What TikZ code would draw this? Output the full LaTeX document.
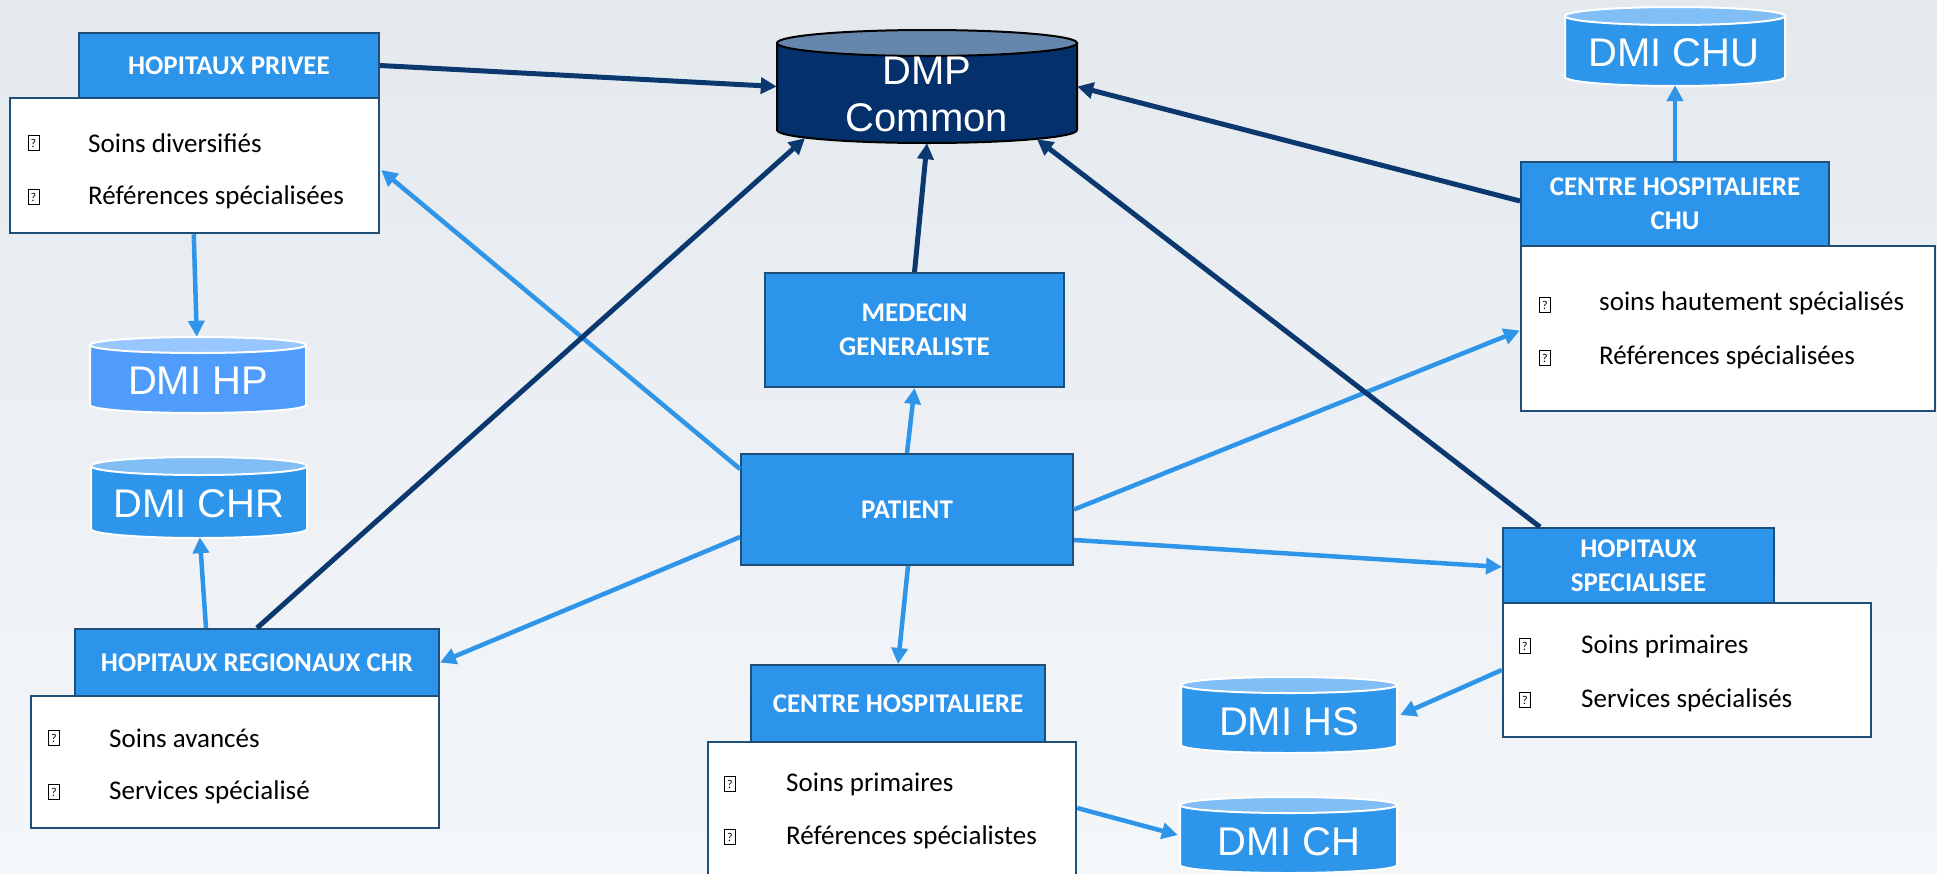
\documentclass[tikz,border=0pt]{standalone}
\usepackage{fontspec}
\setmainfont{Carlito}
\newfontfamily\arialf{Liberation Sans}
\usetikzlibrary{arrows.meta,calc}
\definecolor{hdr}{RGB}{45,148,235}
\definecolor{bord}{RGB}{31,78,121}
\definecolor{navyl}{RGB}{12,56,112}
\definecolor{lightl}{RGB}{46,149,232}
\definecolor{dmpbody}{RGB}{4,48,107}
\definecolor{dmptop}{RGB}{102,135,171}
\definecolor{dmibody}{RGB}{46,150,234}
\definecolor{dmitop}{RGB}{128,190,245}
\definecolor{hpbody}{RGB}{79,156,250}
\definecolor{hptop}{RGB}{152,198,255}
\definecolor{bgtop}{RGB}{228,233,238}
\definecolor{bgbot}{RGB}{244,247,250}
\newcommand\mycyl[8]{%
  \pgfmathsetmacro\cxa{(#1+#2)/2}\pgfmathsetmacro\rxa{(#2-#1)/2}%
  \filldraw[fill=#6, draw=#8, line width=2pt] (#1,#3) -- (#1,#4) arc[start angle=180,end angle=0,x radius=\rxa,y radius=#5] -- (#2,#3) -- cycle;
  \filldraw[fill=#7, draw=#8, line width=2pt] (\cxa,#3) ellipse[x radius=\rxa, y radius=#5];
}
\begin{document}
\begin{tikzpicture}[x=1pt,y=-1pt,
  hdrbox/.style={draw=bord, line width=2pt, fill=hdr, text=white, font=\bfseries\fontsize{27}{34}\selectfont, align=center, inner sep=0pt},
  listbox/.style={draw=bord, line width=2.5pt, fill=white, inner sep=0pt},
  itemtxt/.style={anchor=west, font=\fontsize{27}{32}\selectfont, inner sep=0pt},
  qmark/.style={draw=black, line width=0.9pt, minimum width=11pt, minimum height=15pt, inner sep=0pt, font=\fontsize{12}{12}\selectfont},
  cylbox/.style={draw=none, inner sep=0pt},
  cyltxt/.style={text=white, font=\arialf\fontsize{40}{47}\selectfont, inner sep=0pt, align=center},
  dlink/.style={draw=navyl, line width=5pt, -{Triangle[length=16pt,width=16pt]}},
  llink/.style={draw=lightl, line width=4.5pt, -{Triangle[length=16pt,width=16pt]}}]
\useasboundingbox (0,0) rectangle (1937,873);
\shade[top color=bgtop, bottom color=bgbot] (0,0) rectangle (1937,873);

% cylinders
\mycyl{777}{1077}{43}{130}{13}{dmpbody}{dmptop}{black}
\node[cylbox, minimum width=300pt, minimum height=113pt] (dmpbox) at (927,86.5) {};
\node[cyltxt] (dmp) at (927,94.5) {DMP\\Common};

\mycyl{1565}{1785}{16}{77}{9}{dmibody}{dmitop}{white}
\node[cylbox, minimum width=220pt, minimum height=78pt] (dCHU) at (1675,46) {};
\node[cyltxt] (tCHU) at (1674,53) {DMI CHU};

\mycyl{90}{306}{345}{405}{8}{hpbody}{hptop}{white}
\node[cylbox, minimum width=216pt, minimum height=76pt] (dHP) at (198,375) {};
\node[cyltxt] (tHP) at (198,381) {DMI HP};

\mycyl{91}{307}{466}{529}{9}{dmibody}{dmitop}{white}
\node[cylbox, minimum width=216pt, minimum height=80pt] (dCHR) at (199,497) {};
\node[cyltxt] (tCHR) at (199,504) {DMI CHR};

\mycyl{1181}{1397}{685}{745}{8}{dmibody}{dmitop}{white}
\node[cylbox, minimum width=216pt, minimum height=76pt] (dHS) at (1289,715) {};
\node[cyltxt] (tHS) at (1289,722) {DMI HS};

\mycyl{1180}{1397}{805}{865}{8}{dmibody}{dmitop}{white}
\node[cylbox, minimum width=217pt, minimum height=76pt] (dCH) at (1288.5,835) {};
\node[cyltxt] (tCH) at (1289,842) {DMI CH};

% boxes
\node[hdrbox, minimum width=300pt, minimum height=65pt] (hpH) at (229,65.5) {HOPITAUX PRIVEE};
\node[listbox, minimum width=369pt, minimum height=135pt] (hpL) at (194.5,165.5) {};
\node[qmark] (hpq1) at (33.5,143) {?};
\node[itemtxt] (hpt1) at (88,143) {Soins diversifiés};
\node[qmark] (hpq2) at (33.5,197) {?};
\node[itemtxt] (hpt2) at (88,197) {Références spécialisées};

\node[hdrbox, minimum width=308pt, minimum height=84pt] (chuH) at (1675,204) {CENTRE HOSPITALIERE\\CHU};
\node[listbox, minimum width=414pt, minimum height=165pt] (chuL) at (1728,328.5) {};
\node[qmark] (chuq1) at (1545,305) {?};
\node[itemtxt] (chut1) at (1599,303) {soins hautement spécialisés};
\node[qmark] (chuq2) at (1545,358) {?};
\node[itemtxt] (chut2) at (1599,357) {Références spécialisées};

\node[hdrbox, minimum width=364pt, minimum height=67pt] (chrH) at (257,662.5) {HOPITAUX REGIONAUX CHR};
\node[listbox, minimum width=408pt, minimum height=132pt] (chrL) at (235,762) {};
\node[qmark] (chrq1) at (54,738) {?};
\node[itemtxt] (chrt1) at (109,738) {Soins avancés};
\node[qmark] (chrq2) at (54,792) {?};
\node[itemtxt] (chrt2) at (109,792) {Services spécialisé};

\node[hdrbox, minimum width=299pt, minimum height=114pt] (med) at (914.5,330) {MEDECIN\\GENERALISTE};
\node[hdrbox, minimum width=332pt, minimum height=111pt] (pat) at (907,509.5) {PATIENT};

\node[hdrbox, minimum width=271pt, minimum height=75pt] (hsH) at (1638.5,565.5) {HOPITAUX\\SPECIALISEE};
\node[listbox, minimum width=368pt, minimum height=134pt] (hsL) at (1687,670) {};
\node[qmark] (hsq1) at (1525,646) {?};
\node[itemtxt] (hst1) at (1581,646) {Soins primaires};
\node[qmark] (hsq2) at (1525,700) {?};
\node[itemtxt] (hst2) at (1581,700) {Services spécialisés};

\node[hdrbox, minimum width=294pt, minimum height=77pt] (chH) at (898,703.5) {CENTRE HOSPITALIERE};
\node[listbox, minimum width=368pt, minimum height=138pt] (chL) at (892,811) {};
\node[qmark] (chq1) at (730,784) {?};
\node[itemtxt] (cht1) at (786,784) {Soins primaires};
\node[qmark] (chq2) at (730,837) {?};
\node[itemtxt] (cht2) at (786,837) {Références spécialistes};

% connectors
\draw[dlink] (hpH.east) -- (dmpbox.west);
\draw[llink] ($(pat.north west)+(0,16)$) -- ($(hpL.east)+(1,4.5)$);
\draw[llink] ($(hpL.south west)+(185,0)$) -- ($(dHP.north west)+(107,0)$);
\draw[llink] ($(pat.west)+(0,27.5)$) -- (chrH.east);
\draw[dlink] ($(chrH.north west)+(183,0)$) -- ($(dmpbox.south)+(-122,-5)$);
\draw[llink] ($(chrH.north west)+(132,0)$) -- ($(dCHR.south west)+(109,0)$);
\draw[llink] (pat.north) -- (med.south);
\draw[dlink] (med.north) -- (dmpbox.south);
\draw[llink] (pat.east) -- ($(chuL.west)+(0,2)$);
\draw[dlink] ($(chuH.west)+(0,-3)$) -- (dmpbox.east);
\draw[llink] (chuH.north) -- (dCHU.south);
\draw[dlink] ($(hsH.north west)+(38,0)$) -- ($(dmpbox.south)+(110,-4)$);
\draw[llink] ($(pat.east)+(0,30.5)$) -- ($(hsH.west)+(0,1.5)$);
\draw[llink] ($(pat.south)+(1,0)$) -- (chH.north);
\draw[llink] (hsL.west) -- ($(dHS.east)+(3,0)$);
\draw[llink] ($(chL.east)+(0,-3)$) -- ($(dCH.west)+(-2,0)$);
\end{tikzpicture}
\end{document}
